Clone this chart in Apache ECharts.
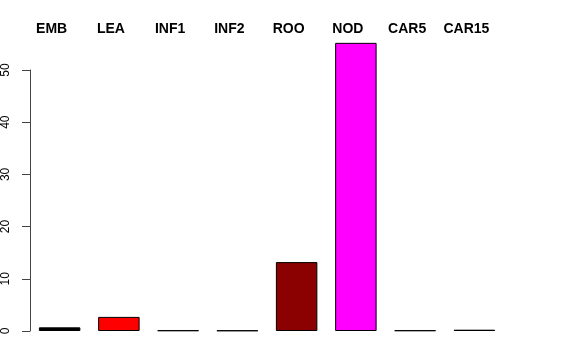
<!DOCTYPE html>
<html><head><meta charset="utf-8">
<script src="https://cdn.jsdelivr.net/npm/echarts@6/dist/echarts.min.js"></script>
<style>html,body{margin:0;padding:0;background:#fff}#c{width:576px;height:360px}</style>
</head><body><div id="c"></div>
<script>
const categories = ["EMB","LEA","INF1","INF2","ROO","NOD","CAR5","CAR15"];
const values = [0.7, 2.7, 0.12, 0.1, 13.2, 55.2, 0.12, 0.25];
const colors = ["#000000","#FF0000","#1E3A1E","#1A1A2E","#8B0000","#FF00FF","#2A2A44","#333333"];
const yTicks = [0,10,20,30,40,50];

const chart = echarts.init(document.getElementById('c'), null, {renderer:'canvas'});
chart.setOption({
  animation:false,
  backgroundColor:'#fff',
  grid:{left:29.5, top:70, width:474.5, height:261},
  xAxis:{type:'category', data:categories, position:'top',
    axisLine:{show:false}, axisTick:{show:false},
    axisLabel:{interval:0, hideOverlap:false, margin:34, padding:[0,16,0,0], fontFamily:'Liberation Sans, Arial, sans-serif', fontWeight:'bold', fontSize:14, color:'#000'}},
  yAxis:{type:'value', min:0, max:50, interval:10,
    axisLine:{show:true, lineStyle:{color:'#444', width:1}},
    axisTick:{show:true, length:8, lineStyle:{color:'#444'}},
    splitLine:{show:false},
    axisLabel:{rotate:90, margin:18, fontFamily:'Liberation Sans, Arial, sans-serif', fontSize:12, color:'#000',
      formatter:v=>yTicks.includes(v)?String(v):''}},
  series:[{type:'bar', clip:false, barWidth:'70%',
    data: values.map((v,i)=>({value:v, itemStyle:{color:colors[i]}})),
    itemStyle:{borderColor:'#000', borderWidth:1}}]
});
</script></body></html>
